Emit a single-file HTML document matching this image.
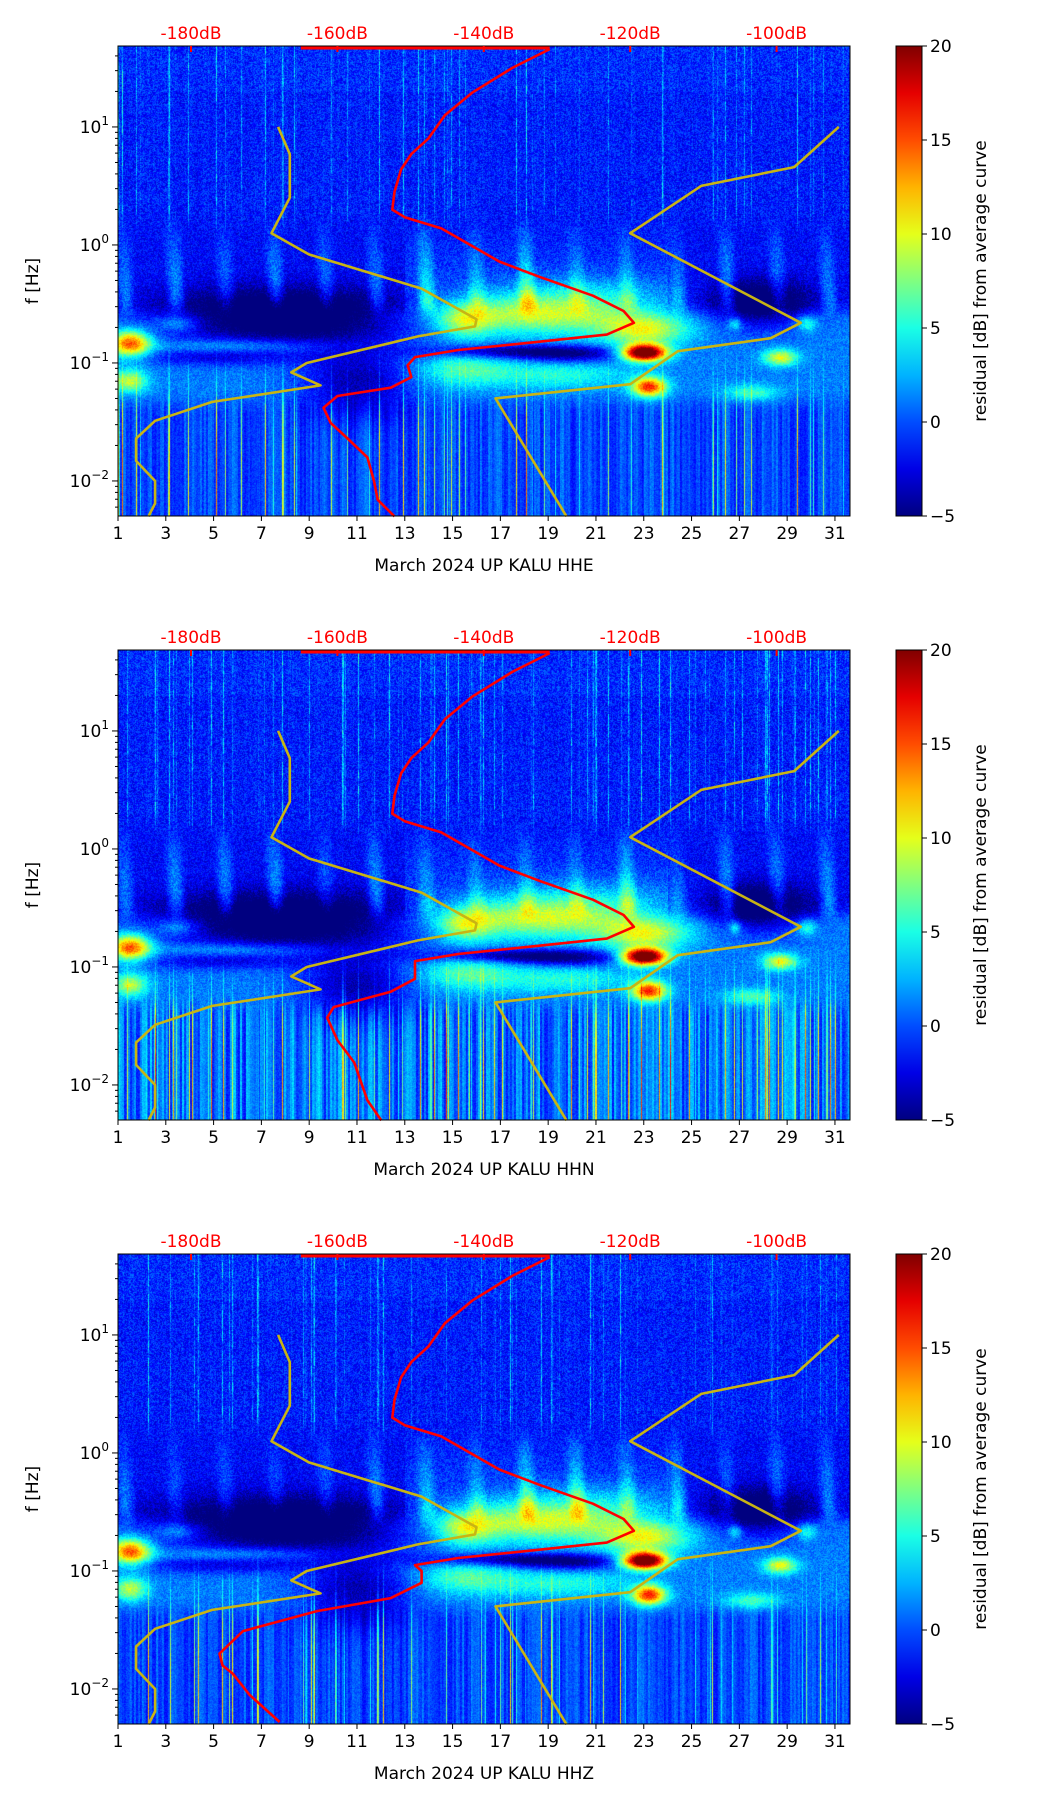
<!DOCTYPE html>
<html><head><meta charset="utf-8">
<style>
html,body{margin:0;padding:0;background:#fff;}
#root{position:relative;width:1052px;height:1806px;overflow:hidden;font-family:"DejaVu Sans","Liberation Sans",sans-serif;}
canvas{position:absolute;}
svg{position:absolute;left:0;top:0;}
</style></head>
<body>
<div id="root">
<svg id="svg" width="1052" height="1806"></svg>
</div>
<script>
// ---- data ----
const panelNames = ["HHE","HHN","HHZ"];
const xTicks = [1,3,5,7,9,11,13,15,17,19,21,23,25,27,29,31];
const dbTicks = [-180,-160,-140,-120,-100];
const cbTicks = [20,15,10,5,0,-5];
const yDecades = [1,0,-1,-2];
// Peterson low noise model: [dB, log10 f]
const nlnmDb = [-168.1,-166.5,-166.5,-169.0,-163.9,-148.5,-141.0,-141.2,-149.0,-164.2,-166.3,-162.3,-177.1,-184.9,-187.5,-187.5,-184.9,-184.9,-185.8];
const nlnmLogF = [1.0,0.77,0.40,0.10,-0.08,-0.37,-0.63,-0.69,-0.775,-1.0,-1.08,-1.19,-1.33,-1.49,-1.64,-1.83,-2.0,-2.19,-2.30];
const nhnmDb = [-91.5,-97.6,-110.3,-120.0,-96.7,-100.8,-113.5,-120.0,-138.4,-128.7];
const nhnmLogF = [1.0,0.66,0.50,0.10,-0.66,-0.79,-0.90,-1.18,-1.30,-2.30];
// average curves, upper part shared
const avgUpperDb = [-131.0,-136.1,-141.6,-145.3,-147.6,-149.9,-151.3,-152.2,-152.5,-150.8,-145.8,-137.9,-132.4,-125.1,-120.9,-119.5,-123.2,-132.4,-143.5,-149.4];
const avgUpperLogF = [1.66,1.50,1.29,1.10,0.90,0.77,0.64,0.45,0.30,0.235,0.14,-0.14,-0.27,-0.43,-0.56,-0.66,-0.76,-0.82,-0.89,-0.95];
const avgLowerDbHHE = [-150.4,-149.9,-152.7,-160.0,-161.9,-160.9,-158.6,-155.9,-155.0,-154.5,-152.2];
const avgLowerLogFHHE = [-1.02,-1.12,-1.21,-1.28,-1.38,-1.51,-1.64,-1.80,-2.0,-2.16,-2.30];
const avgLowerDbHHN = [-149.4,-149.4,-152.7,-160.5,-161.4,-160.0,-157.7,-155.9,-154.0];
const avgLowerLogFHHN = [-1.0,-1.10,-1.21,-1.34,-1.43,-1.62,-1.81,-2.13,-2.30];
const avgLowerDbHHZ = [-148.5,-148.5,-152.7,-162.8,-172.9,-176.1,-175.7,-174.3,-172.0,-167.9];
const avgLowerLogFHHZ = [-1.0,-1.10,-1.23,-1.34,-1.51,-1.70,-1.80,-1.87,-2.05,-2.28];
// spectrogram features: day, log f, sigma day, sigma logf, residual dB
const blobDay  = [8,    27.8, 11,   5,    17.5, 20,   18.5, 15.5, 23,   23,   23.2, 1.5,  1.5,  28.7, 29.8, 15.5, 19.5, 27.5, 3.5,  26.8, 6,    20.5];
const blobLogF = [-0.62,-0.5, -1.15,-0.95,-0.9, -0.93,-0.58,-0.64,-0.91,-0.72,-1.2, -0.83,-1.15,-0.95,-0.66,-1.05,-1.1, -1.25,-0.66,-0.66,-0.85,-0.42];
const blobSd   = [3.6,  1.5,  1.6,  2.5,  2.5,  1.6,  3.0,  0.8,  0.65, 1.3,  0.5,  0.6,  0.5,  0.5,  0.3,  1.4,  2,    0.8,  0.6,  0.2,  2.5,  2.5];
const blobSl   = [0.16, 0.14, 0.2,  0.05, 0.04, 0.05, 0.12, 0.1,  0.05, 0.09, 0.06, 0.08, 0.07, 0.05, 0.05, 0.1,  0.08, 0.05, 0.05, 0.04, 0.04, 0.12];
const blobAmp  = [-9,   -7,   -5,   -3,   -6,   -4,   8,    6,    24,   8,    15,   14,   8,    9,    5,    5,    4,    5,    4,    5,    3,    3];

// ---- layout ----
const X0=118, X1=850, W=X1-X0, H=470;
const panelTop=[46,650,1254];
const dayMin=1, dayMax=31.63;
const LTop=1.686, LBot=-2.297;
const xDay = d => X0 + (d-dayMin)/(dayMax-dayMin)*W;
const xDb = db => 191 + (db+180)*7.32;
const yL = (L,t) => t + (LTop-L)/(LTop-LBot)*H;
const svg=document.getElementById('svg');
const NS="http://www.w3.org/2000/svg";
function el(tag,attrs,parent){const e=document.createElementNS(NS,tag);for(const k in attrs)e.setAttribute(k,attrs[k]);(parent||svg).appendChild(e);return e;}
function txt(s,attrs){const t=el('text',attrs);t.textContent=s;return t;}

function jet(v){let t=(v+5)/25;t=Math.max(0,Math.min(1,t));
 const c=x=>Math.max(0,Math.min(1,x));
 return [c(1.5-Math.abs(4*t-3))*255,c(1.5-Math.abs(4*t-2))*255,c(1.5-Math.abs(4*t-1))*255];}
function hash(a,b,s){let h=(a*374761393+b*668265263+s*1442695041)|0;h=(h^(h>>>13))*1274126177|0;h=h^(h>>>16);return ((h>>>0)%100000)/100000;}
function sstep(a,b,x){let t=Math.max(0,Math.min(1,(x-a)/(b-a)));return t*t*(3-2*t);}

function drawSpec(p){
 const cv=document.createElement('canvas');cv.width=W;cv.height=H;
 cv.style.left=X0+'px';cv.style.top=panelTop[p]+'px';
 
 
 document.getElementById('root').insertBefore(cv,svg);
 const ctx=cv.getContext('2d');const img=ctx.createImageData(W,H);
 const seed=p*7+3;
 const colS=[],colS2=[];
 for(let x=0;x<W;x++){const r=hash(x,1,seed);colS.push(r>0.9?(r-0.9)*120:(r>0.6?1.2:0));colS2.push(hash(x>>1,2,seed));}
 for(let y=0;y<H;y++){
  const L=LTop-(y/H)*(LTop-LBot);
  const wU=sstep(0.05,0.35,L);
  const wLow=1-sstep(-1.45,-1.2,L);
  for(let x=0;x<W;x++){
   const d=dayMin+x/W*(dayMax-dayMin);
   const n=(hash(x,y,seed)-0.5)*2;
   const vU=-1.4+1.8*n+(L>1.3?0.4:0)+colS[x]*0.35*(0.5+hash(x,y>>3,seed+1));
   const per=Math.floor((d-0.2)/2.1);
   const w=Math.pow(Math.max(0,Math.cos(2*Math.PI*(d-1.2+0.25*L)/2.1)),1.5)*(0.6+0.8*hash(per,5,seed));
   const g=Math.min(1,Math.max(0,(0.35-L)/0.8));
   const vP=-1.8+4*w*g+1.6*n+(d>13&&d<24?1.8*g:0);
   const vM=1.2+1.3*n;
   const vL=-0.3+2.6*(colS2[x]-0.5)+(p===1?2.2*colS2[x]:0)+0.9*n+colS[x]*0.35;
   let v=wU*vU+(1-wU)*((1-wLow)*(L>-0.55?vP:vM)+wLow*vL);
   if(L>-0.65&&L<-0.45){const b=sstep(-0.65,-0.45,L);v=(1-wLow)*((1-b)*vM+b*vP)+wLow*vL;}
   for(let i=0;i<blobDay.length;i++){
     const dd=(d-blobDay[i])/blobSd[i], dl=(L-blobLogF[i])/blobSl[i];
     const e=dd*dd+dl*dl; if(e<14) v+=blobAmp[i]*Math.exp(-e/2);
   }
   if(L<-0.8 && colS[x]>2) v+=colS[x]*0.8*Math.min(1,(-0.8-L));
   const c=jet(v);const k=(y*W+x)*4;img.data[k]=c[0];img.data[k+1]=c[1];img.data[k+2]=c[2];img.data[k+3]=255;
  }}
 ctx.putImageData(img,0,0);
}

function poly(dbs,ls,t,color,name){
 let pts=dbs.map((db,i)=>xDb(db).toFixed(1)+','+yL(ls[i],t).toFixed(1)).join(' ');
 const pl=el('polyline',{points:pts,fill:'none',stroke:color,'stroke-width':2.6,'stroke-linejoin':'round'});
 
 
}
const lowers=[[avgLowerDbHHE,avgLowerLogFHHE],[avgLowerDbHHN,avgLowerLogFHHN],[avgLowerDbHHZ,avgLowerLogFHHZ]];

for(let p=0;p<3;p++){
 const t=panelTop[p];
 drawSpec(p);
 el('line',{x1:xDb(-165),y1:t+2,x2:xDb(-131),y2:t+2,stroke:'#f00','stroke-width':3});
 poly(nlnmDb,nlnmLogF,t,'#c8b414','nlnm-curve');
 poly(nhnmDb,nhnmLogF,t,'#c8b414','nhnm-curve');
 poly(avgUpperDb.concat(lowers[p][0]),avgUpperLogF.concat(lowers[p][1]),t,'#ff0000','average-curve');
 el('rect',{x:X0,y:t,width:W,height:H,fill:'none',stroke:'#000','stroke-width':1});
 xTicks.forEach(d=>{const x=xDay(d);el('line',{x1:x,y1:t+H,x2:x,y2:t+H+5,stroke:'#000'});
  const tl=txt(String(d),{x:x,y:t+H+23,'font-size':17,'text-anchor':'middle',fill:'#000'});
  });
 dbTicks.forEach(db=>{const x=xDb(db);el('line',{x1:x,y1:t,x2:x,y2:t+6,stroke:'#f00','stroke-width':2});
  const tl=txt(db+'dB',{x:x,y:t-7,'font-size':17,'text-anchor':'middle',fill:'#f00'});
  });
 yDecades.forEach(k=>{const y=yL(k,t);el('line',{x1:X0-6,y1:y,x2:X0,y2:y,stroke:'#000'});
  const tl=el('text',{x:X0-9,y:y+6,'font-size':17,'text-anchor':'end',fill:'#000'});
  tl.innerHTML='10<tspan dy="-8" font-size="12">'+(k<0?'\u2212'+(-k):k)+'</tspan>';
  
  for(let m=2;m<=9;m++){const L=k-1+Math.log10(m);if(L>LBot&&L<LTop){const yy=yL(L,t);el('line',{x1:X0-3,y1:yy,x2:X0,y2:yy,stroke:'#000'});}}
 });
 for(let m=2;m<=5;m++){const L=1+Math.log10(m);if(L<LTop){const yy=yL(L,t);el('line',{x1:X0-3,y1:yy,x2:X0,y2:yy,stroke:'#000'});}}
 const yl=txt('f [Hz]',{x:0,y:0,'font-size':17,'text-anchor':'middle',transform:'translate(38,'+(t+H/2)+') rotate(-90)'});
 
 const xl=txt('March 2024 UP KALU  '+panelNames[p],{x:(X0+X1)/2,y:t+H+55,'font-size':17,'text-anchor':'middle','xml:space':'preserve'});
 
 const gid='cbg'+p;const defs=el('defs',{});const lg=el('linearGradient',{id:gid,x1:0,y1:1,x2:0,y2:0},defs);
 for(let i=0;i<=10;i++){const c=jet(-5+25*i/10);el('stop',{offset:i/10,'stop-color':'rgb('+c.map(Math.round).join(',')+')'},lg);}
 const cb=el('rect',{x:896,y:t,width:26,height:H,fill:'url(#'+gid+')',stroke:'#000','stroke-width':1});
 
 cbTicks.forEach(v=>{const y=t+(20-v)/25*H;el('line',{x1:922,y1:y,x2:927,y2:y,stroke:'#000'});
  const tl=txt(v<0?'\u2212'+(-v):String(v),{x:930,y:y+6,'font-size':17,fill:'#000'});
  });
 const cl=txt('residual [dB] from average curve',{x:0,y:0,'font-size':17,'text-anchor':'middle',transform:'translate(986,'+(t+H/2)+') rotate(-90)'});
 
}
</script>
</body></html>
